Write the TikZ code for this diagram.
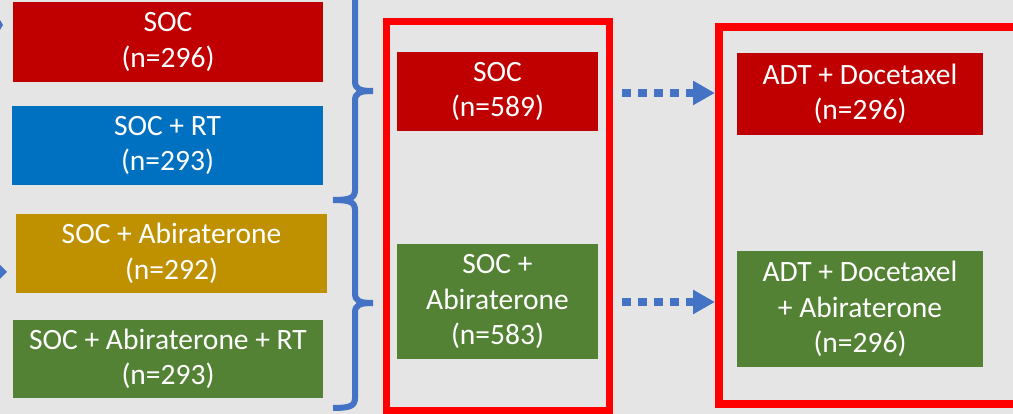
\documentclass[tikz,border=0pt]{standalone}
\usepackage{fontspec}
\setmainfont{Carlito}
\usetikzlibrary{arrows.meta}
\definecolor{bg}{HTML}{E5E5E5}
\definecolor{socred}{HTML}{C00000}
\definecolor{socblue}{HTML}{0070C0}
\definecolor{socgold}{HTML}{BF9000}
\definecolor{socgreen}{HTML}{548235}
\definecolor{framered}{HTML}{FF0000}
\definecolor{accent}{HTML}{4472C4}
\tikzset{
  armbox/.style={inner sep=0pt, text=white, align=center,
    font=\fontsize{29.5}{35.5}\selectfont},
  frame/.style={draw=framered, inner sep=0pt},
  brace/.style={draw=accent, line width=6pt, line join=round},
  flowarrow/.style={draw=accent, line width=8pt, dash pattern=on 9pt off 7pt,
    -{Triangle[length=22pt,width=23pt]}},
}
\begin{document}
\begin{tikzpicture}[x=1pt,y=-1pt]
\useasboundingbox (0,0) rectangle (1013,414);
\clip (0,0) rectangle (1013,414);
\fill[bg] (0,0) rectangle (1013,414);

% frames
\node[frame, line width=7pt, minimum width=223pt, minimum height=388pt] (midframe) at (497.5,216) {};
\node[frame, line width=8pt, minimum width=311pt, minimum height=377pt] (rightframe) at (874.5,215.5) {};

% left arms
\node[armbox, fill=socred, minimum width=310pt, minimum height=80pt] (l1) at (168,42) {SOC\\(n=296)};
\node[armbox, fill=socblue, minimum width=311pt, minimum height=79pt] (l2) at (167.5,145.5) {SOC + RT\\(n=293)};
\node[armbox, fill=socgold, minimum width=311pt, minimum height=79pt] (l3) at (171.5,253.5) {SOC + Abiraterone\\(n=292)};
\node[armbox, fill=socgreen, minimum width=310pt, minimum height=78pt] (l4) at (168,359) {SOC + Abiraterone + RT\\(n=293)};

% middle arms
\node[armbox, fill=socred, minimum width=201pt, minimum height=79pt] (m1) at (497.5,91.5) {SOC\\(n=589)};
\node[armbox, fill=socgreen, minimum width=201pt, minimum height=115pt] (m2) at (497.5,301.5) {SOC +\\Abiraterone\\(n=583)};

% right arms
\node[armbox, fill=socred, minimum width=246pt, minimum height=82pt] (r1) at (860,94) {ADT + Docetaxel\\(n=296)};
\node[armbox, fill=socgreen, minimum width=246pt, minimum height=116pt] (r2) at (860,309) {ADT + Docetaxel\\+ Abiraterone\\(n=296)};

% braces
\coordinate (b1tip) at (373,91);
\coordinate (b2tip) at (373,303);
\coordinate (bjoin) at (333,200);
\draw[brace] (bjoin) .. controls (350,200) and (355,198) .. (355,190) -- (355,101)
  .. controls (355,93) and (359,91) .. (b1tip);
\draw[brace] (b1tip) .. controls (359,91) and (355,89) .. (355,81) -- (355,-20);
\draw[brace] (bjoin) .. controls (350,200) and (355,202) .. (355,210) -- (355,293)
  .. controls (355,301) and (359,303) .. (b2tip);
\draw[brace] (b2tip) .. controls (359,303) and (355,305) .. (355,313) -- (355,398)
  .. controls (355,406) and (350,408) .. (333,408);

% dotted arrows
\coordinate (a1s) at (622,93);
\coordinate (a2s) at (622,302);
\draw[flowarrow] (a1s) -- (rightframe.west |- a1s);
\draw[flowarrow] (a2s) -- (rightframe.west |- a2s);

% partial arrowheads at left edge
\fill[accent] (0,20) -- (3,25) -- (0,30) -- cycle;
\fill[accent] (0,265) -- (7,272) -- (0,279) -- cycle;
\end{tikzpicture}
\end{document}
